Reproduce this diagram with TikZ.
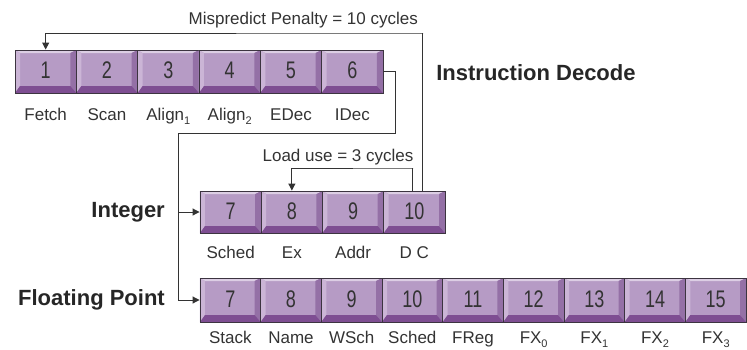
\documentclass[tikz,border=0pt]{standalone}
\usepackage{fontspec}
\setmainfont{Liberation Sans}
\newfontfamily\numfont{Liberation Sans}[FakeStretch=0.75]
\usetikzlibrary{arrows.meta}
\definecolor{face}{HTML}{B69BC5}
\definecolor{bevT}{HTML}{DCCEE4}
\definecolor{bevL}{HTML}{CBB5D6}
\definecolor{bevR}{HTML}{9470A6}
\definecolor{bevB}{HTML}{7E4E92}
\definecolor{edge}{HTML}{3C3440}
\definecolor{txt}{HTML}{333333}
\newcommand\mysub[1]{\raisebox{-0.22em}{\fontsize{11}{11}\selectfont #1}}
\tikzset{
  stage/.style={minimum width=#1, inner sep=0pt, draw=edge, line width=0.9pt, fill=face,
    font=\numfont\fontsize{24}{24}\selectfont, text=txt,
    path picture={
      \fill[bevT] (path picture bounding box.north west) -- (path picture bounding box.north east)
        -- ([xshift=-6pt,yshift=-3pt]path picture bounding box.north east)
        -- ([xshift=5pt,yshift=-3pt]path picture bounding box.north west) -- cycle;
      \fill[bevL] (path picture bounding box.north west) -- ([xshift=5pt,yshift=-3pt]path picture bounding box.north west)
        -- ([xshift=5pt,yshift=7pt]path picture bounding box.south west) -- (path picture bounding box.south west) -- cycle;
      \fill[bevR] (path picture bounding box.north east) -- (path picture bounding box.south east)
        -- ([xshift=-6pt,yshift=7pt]path picture bounding box.south east)
        -- ([xshift=-6pt,yshift=-3pt]path picture bounding box.north east) -- cycle;
      \fill[bevB] (path picture bounding box.south west) -- (path picture bounding box.south east)
        -- ([xshift=-6pt,yshift=7pt]path picture bounding box.south east)
        -- ([xshift=5pt,yshift=7pt]path picture bounding box.south west) -- cycle;
    }},
  stagelabel/.style={anchor=base, inner sep=0pt, font=\fontsize{17}{17}\selectfont, text=txt},
  grouplabel/.style={inner sep=0pt, font=\bfseries\fontsize{22}{22}\selectfont, text=black!85},
  note/.style={inner sep=0pt, font=\fontsize{17}{17}\selectfont, text=txt},
  conn/.style={draw=black!80, line width=1pt},
  arr/.style={conn, -{Triangle[length=7pt,width=7pt]}}
}
\begin{document}
\begin{tikzpicture}[x=1pt,y=-1pt]
\useasboundingbox (0,0) rectangle (747,349);
% Row 1: instruction decode
\foreach \lab [count=\i] in {Fetch,Scan,{Align\mysub{1}},{Align\mysub{2}},EDec,IDec}{
  \node[stage=61.33pt, minimum height=43pt] (f\i) at ({15+30.67+61.33*(\i-1)},71.5) {\raisebox{2pt}{\i}};
  \node[stagelabel] (fl\i) at ([yshift=-27pt]f\i.south) {\lab};
}
% Row 2: integer
\foreach \num/\lab [count=\i] in {7/Sched,8/Ex,9/Addr,10/{D C}}{
  \node[stage=61.25pt, minimum height=42pt] (i\num) at ({200+30.62+61.25*(\i-1)},212) {\raisebox{2pt}{\num}};
  \node[stagelabel] (il\num) at ([yshift=-25pt]i\num.south) {\lab};
}
% Row 3: floating point
\foreach \num/\lab [count=\i] in {7/Stack,8/Name,9/WSch,10/Sched,11/FReg,12/{FX\mysub{0}},13/{FX\mysub{1}},14/{FX\mysub{2}},15/{FX\mysub{3}}}{
  \node[stage=60.67pt, minimum height=44pt] (p\num) at ({200+30.33+60.67*(\i-1)},300) {\raisebox{2pt}{\num}};
  \node[stagelabel] (pl\num) at ([yshift=-21pt]p\num.south) {\lab};
}
% Group labels
\node[grouplabel] (gid) at (536,73) {Instruction Decode};
\node[grouplabel, anchor=east] (gint) at (165,212) {Integer};
\node[grouplabel, anchor=east] (gfp) at (165,300) {Floating Point};
% Notes
\node[note, anchor=south east] (mpn) at (418,28) {Mispredict Penalty = 10 cycles};
\node[note] (lun) at (338,157) {Load use = 3 cycles};
% Connectors
\coordinate (mpc) at (423,33);
\draw[arr] ([xshift=8pt]i10.north) |- (mpc) -| (f1.north);
\coordinate (luc) at (413,168);
\draw[arr] ([xshift=-2pt]i10.north) |- (luc) -| (i8.north);
\coordinate (c1) at (395,133);
\coordinate (c2) at (178,133);
\draw[arr] (f6.east) -| (c1) -- (c2) |- (p7.west);
\draw[arr] (c2 |- i7.west) -- (i7.west);
\end{tikzpicture}
\end{document}
